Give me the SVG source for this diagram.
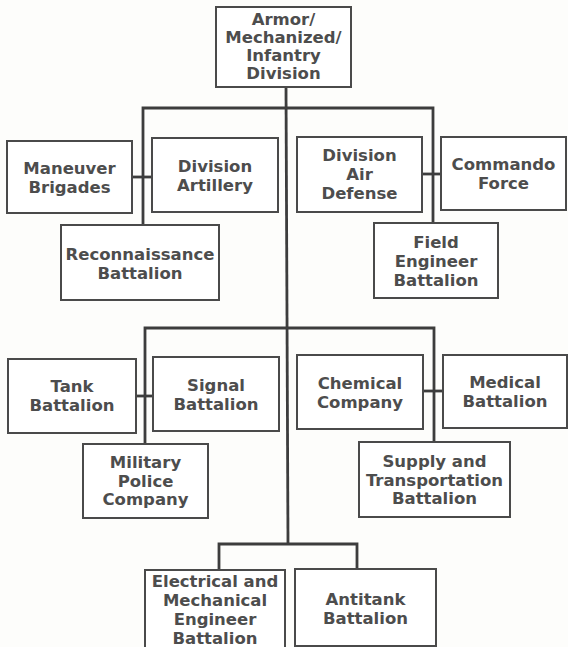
<svg xmlns="http://www.w3.org/2000/svg" width="568" height="647" viewBox="0 0 568 647">
<style>
.box{fill:#fff;stroke:#4a4a4a;stroke-width:2}
.t{font-family:"DejaVu Sans",sans-serif;font-weight:bold;font-size:16.5px;fill:#4d4d4d;text-anchor:middle}
.c{fill:none;stroke:#3d3d3d;stroke-width:2.8}
</style>
<rect width="568" height="647" fill="#fdfdfb"/>
<g id="connectors">
<path class="c" d="M286 87 L288 544"/>
<path class="c" d="M143 225 V108 H433 V223"/>
<path class="c" d="M132 177 H152"/>
<path class="c" d="M422 174 H441"/>
<path class="c" d="M145 444 V328 H434 V442"/>
<path class="c" d="M136 396 H153"/>
<path class="c" d="M423 391 H443"/>
<path class="c" d="M219 570 V544 H357 V569"/>
</g>
<g id="division">
<rect class="box" x="216" y="7" width="135" height="80"/>
<text class="t" x="283.5" y="25">Armor/</text>
<text class="t" x="283.5" y="43">Mechanized/</text>
<text class="t" x="283.5" y="61">Infantry</text>
<text class="t" x="283.5" y="79">Division</text>
</g>
<g id="maneuver">
<rect class="box" x="7" y="141" width="125" height="72"/>
<text class="t" x="69.5" y="174">Maneuver</text>
<text class="t" x="69.5" y="193">Brigades</text>
</g>
<g id="artillery">
<rect class="box" x="152" y="138" width="126" height="74"/>
<text class="t" x="215" y="171.5">Division</text>
<text class="t" x="215" y="190.5">Artillery</text>
</g>
<g id="recon">
<rect class="box" x="61" y="225" width="158" height="75"/>
<text class="t" x="140" y="259.5">Reconnaissance</text>
<text class="t" x="140" y="278.5">Battalion</text>
</g>
<g id="airdefense">
<rect class="box" x="297" y="137" width="125" height="75"/>
<text class="t" x="359.5" y="161">Division</text>
<text class="t" x="359.5" y="180">Air</text>
<text class="t" x="359.5" y="199">Defense</text>
</g>
<g id="commando">
<rect class="box" x="441" y="137" width="125" height="73"/>
<text class="t" x="503.5" y="170">Commando</text>
<text class="t" x="503.5" y="189">Force</text>
</g>
<g id="fieldengineer">
<rect class="box" x="374" y="223" width="124" height="75"/>
<text class="t" x="436" y="247.5">Field</text>
<text class="t" x="436" y="266.5">Engineer</text>
<text class="t" x="436" y="285.5">Battalion</text>
</g>
<g id="tank">
<rect class="box" x="8" y="359" width="128" height="74"/>
<text class="t" x="72" y="392">Tank</text>
<text class="t" x="72" y="411">Battalion</text>
</g>
<g id="signal">
<rect class="box" x="153" y="357" width="126" height="74"/>
<text class="t" x="216" y="390.5">Signal</text>
<text class="t" x="216" y="409.5">Battalion</text>
</g>
<g id="mp">
<rect class="box" x="83" y="444" width="125" height="74"/>
<text class="t" x="145.5" y="468">Military</text>
<text class="t" x="145.5" y="487">Police</text>
<text class="t" x="145.5" y="505">Company</text>
</g>
<g id="chemical">
<rect class="box" x="297" y="355" width="126" height="74"/>
<text class="t" x="360" y="388.5">Chemical</text>
<text class="t" x="360" y="407.5">Company</text>
</g>
<g id="medical">
<rect class="box" x="443" y="355" width="124" height="73"/>
<text class="t" x="505" y="388">Medical</text>
<text class="t" x="505" y="407">Battalion</text>
</g>
<g id="supply">
<rect class="box" x="359" y="442" width="151" height="75"/>
<text class="t" x="434.5" y="466.5">Supply and</text>
<text class="t" x="434.5" y="485.5">Transportation</text>
<text class="t" x="434.5" y="504">Battalion</text>
</g>
<g id="eme">
<rect class="box" x="145" y="570" width="140" height="82"/>
<text class="t" x="215" y="587">Electrical and</text>
<text class="t" x="215" y="606">Mechanical</text>
<text class="t" x="215" y="625">Engineer</text>
<text class="t" x="215" y="644">Battalion</text>
</g>
<g id="antitank">
<rect class="box" x="295" y="569" width="141" height="77"/>
<text class="t" x="365.5" y="605">Antitank</text>
<text class="t" x="365.5" y="624">Battalion</text>
</g>
</svg>
